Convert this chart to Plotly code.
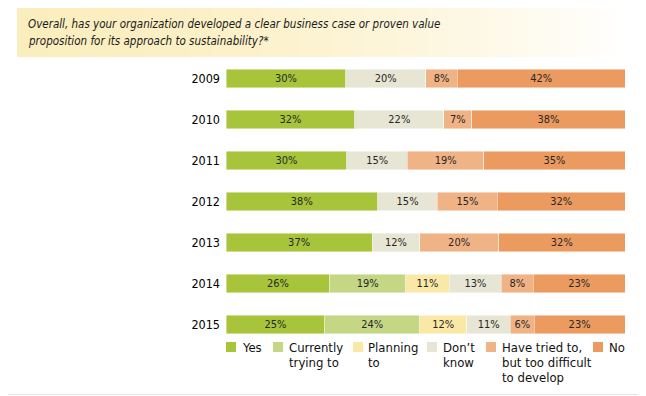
import plotly.graph_objects as go

# ---- data ----
years = ["2009", "2010", "2011", "2012", "2013", "2014", "2015"]
series_names = ["Yes", "Currently trying to", "Planning to", "Don't know",
                "Have tried to, but too difficult to develop", "No"]
legend_labels = ["Yes", "Currently<br>trying to", "Planning<br>to", "Don\u2019t<br>know",
                 "Have tried to,<br>but too difficult<br>to develop", "No"]
yes_vals = [30, 32, 30, 38, 37, 26, 25]
currently_vals = [None, None, None, None, None, 19, 24]
planning_vals = [None, None, None, None, None, 11, 12]
dontknow_vals = [20, 22, 15, 15, 12, 13, 11]
tried_vals = [8, 7, 19, 15, 20, 8, 6]
no_vals = [42, 38, 35, 32, 32, 23, 23]
colors = ["#A8C43B", "#C5D784", "#FAE9A6", "#E7E5D4", "#F0B385", "#EB9B5F"]
title_lines = ["Overall, has your organization developed a clear business case or proven value",
               "proposition for its approach to sustainability?*"]

all_vals = [yes_vals, currently_vals, planning_vals, dontknow_vals, tried_vals, no_vals]

FONT = "DejaVu Sans Condensed, Liberation Sans Narrow, sans-serif"
OFF = 8                      # browser body margin
PAGE_W, PAGE_H = 646, 396
W, H = PAGE_W - OFF, PAGE_H - OFF
PLOT_L, PLOT_R, PLOT_T, PLOT_B = 226, 625, 58, 345   # page pixels
L, R, T, B = PLOT_L - OFF, PAGE_W - PLOT_R, PLOT_T - OFF, PAGE_H - PLOT_B
PW, PH = PLOT_R - PLOT_L, PLOT_B - PLOT_T


def px2x(px):
    return (px - PLOT_L) / PW


def px2y(py):
    return (PLOT_B - py) / PH


fig = go.Figure()
for name, vals, col in zip(series_names, all_vals, colors):
    fig.add_trace(go.Bar(
        name=name, y=years, x=vals, orientation="h",
        marker=dict(color=col, line=dict(color="rgba(255,255,255,0.55)", width=0.8)),
        text=[f"{v}%" if v is not None else "" for v in vals],
        textposition="inside", insidetextanchor="middle", textangle=0,
        textfont=dict(family=FONT, size=11, color="#262626"),
        showlegend=False, hoverinfo="skip",
    ))

shapes = []
# title gradient background
x0, x1 = 17, PAGE_W
n = 80
yellow = (251, 238, 190)
for i in range(n):
    a = x0 + (x1 - x0) * i / n
    b = x0 + (x1 - x0) * (i + 1) / n
    t = (i + 0.5) / n
    f = min(1.0, t ** 1.7 * 1.05)
    c = tuple(round(yellow[k] + (255 - yellow[k]) * f) for k in range(3))
    shapes.append(dict(type="rect", xref="paper", yref="paper", layer="below",
                       x0=px2x(a), x1=px2x(b) + 0.002, y0=px2y(57), y1=px2y(8),
                       line=dict(width=0), fillcolor=f"rgb{c}"))
# bottom rule
shapes.append(dict(type="line", xref="paper", yref="paper", x0=px2x(0), x1=px2x(PAGE_W),
                   y0=px2y(394.5), y1=px2y(394.5), line=dict(color="#e4e4e4", width=1)))

annotations = []
for k, line in enumerate(title_lines):
    annotations.append(dict(text=line, xref="paper", yref="paper", x=px2x(26),
                            y=px2y(23.5 + 18 * k), xanchor="left", yanchor="middle",
                            align="left", showarrow=False,
                            font=dict(family=FONT, size=11.5, color="#1a1a1a", style="italic")))

# manual legend
sq_x = [226, 273, 353, 427, 486, 593]
tx_x = [241, 288, 367, 442, 501, 608]
for lab, col, sx, tx in zip(legend_labels, colors, sq_x, tx_x):
    shapes.append(dict(type="rect", xref="paper", yref="paper",
                       x0=px2x(sx), x1=px2x(sx + 10), y0=px2y(352), y1=px2y(342),
                       line=dict(width=0), fillcolor=col))
    for k, part in enumerate(lab.split("<br>")):
        annotations.append(dict(text=part, xref="paper", yref="paper", x=px2x(tx - 1),
                                y=px2y(347 + 15 * k), xanchor="left", yanchor="middle",
                                align="left", showarrow=False,
                                font=dict(family=FONT, size=13, color="#111111")))

fig.update_layout(
    width=W, height=H, barmode="stack", barnorm="percent", bargap=0.537,
    margin=dict(l=L, r=R, t=T, b=B, pad=0),
    paper_bgcolor="white", plot_bgcolor="white",
    xaxis=dict(range=[0, 100], visible=False, fixedrange=True),
    yaxis=dict(autorange="reversed", type="category", showgrid=False, zeroline=False,
               showline=False, ticks="", ticklabelstandoff=5,
               tickfont=dict(family=FONT, size=12.5, color="#000000")),
    shapes=shapes, annotations=annotations, showlegend=False,
)

fig.write_html("out.html")
